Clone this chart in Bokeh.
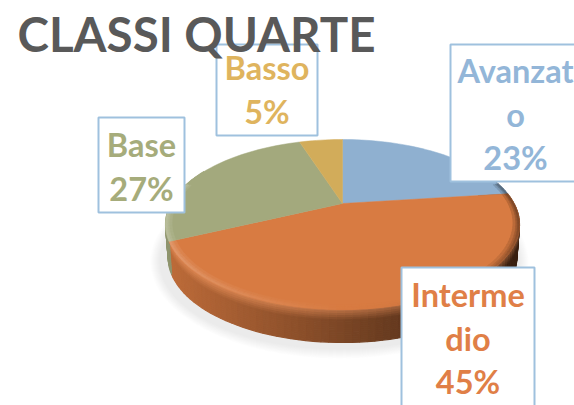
import math
from bokeh.plotting import figure
from bokeh.models import Range1d, ColumnDataSource
from bokeh.core.properties import value
from bokeh.embed import file_html
from bokeh.resources import INLINE

# --- data ---
title_text = "CLASSI QUARTE"
categories = ["Avanzato", "Intermedio", "Base", "Basso"]
values = [23, 45, 27, 5]
label_lines = [["Avanzat", "o"], ["Interme", "dio"], ["Base"], ["Basso"]]
face_colors = ["#8FB0D0", "#D87B42", "#A3A97D", "#D2AC5A"]
text_colors = ["#93B6D8", "#E07F47", "#A6AC7B", "#DFB45E"]

# --- layout (image pixels) ---
W, H = 574, 405
CX, CY, RX, RY, DEPTH, PERSP = 342, 224, 177, 85, 33, 0.247
boxes = [(450, 44, 590, 181), (401, 267, 534, 420), (98, 117, 184, 212), (216, 44, 317, 135)]
first_line = [70, 294, 144, 67]
FS = 32.5
LINE_H = 43.5


def hex2rgb(c):
    return tuple(int(c[i:i + 2], 16) for i in (1, 3, 5))


def mix(a, b, f):
    return tuple(a[i] + (b[i] - a[i]) * f for i in range(3))


def rgb2hex(c):
    return "#%02x%02x%02x" % tuple(max(0, min(255, round(v))) for v in c)


def project(theta, r=1.0):
    """Angle clockwise from 12 o'clock on the disc to unit ellipse coords."""
    s, d = r * math.sin(theta), r * math.cos(theta)
    den = 1 + PERSP * d
    k = math.sqrt(1 - PERSP ** 2)
    return k * s / den, -(d + PERSP) / den


def arc(a0, a1, step=math.radians(2)):
    n = max(2, int(abs(a1 - a0) / step) + 1)
    return [a0 + (a1 - a0) * i / n for i in range(n + 1)]


p = figure(width=W, height=H, x_range=Range1d(0, W), y_range=Range1d(H, 0),
           output_backend="svg", toolbar_location=None, min_border=0)
p.axis.visible = False
p.grid.visible = False
p.outline_line_color = None
p.background_fill_color = "#ffffff"
p.border_fill_color = "#ffffff"

# soft shadow
for i in range(10):
    g = 12 - i
    p.ellipse(x=CX - 3, y=CY + DEPTH + 4, width=2 * (RX + g), height=2 * (RY + g),
              fill_color="#808080", fill_alpha=0.02, line_color=None)

total = sum(values)
angles = [0.0]
for v in values:
    angles.append(angles[-1] + 2 * math.pi * v / total)

# side wall
xs, ys, cols = [], [], []
layers = 16
for i, base_hex in enumerate(face_colors):
    base = hex2rgb(base_hex)
    th = arc(angles[i], angles[i + 1])
    for a0, a1 in zip(th[:-1], th[1:]):
        if math.cos((a0 + a1) / 2) > 0.45:
            continue
        u0, v0 = project(a0)
        u1, v1 = project(a1)
        um = (u0 + u1) / 2
        pos = (um + 1) / 2
        for l in range(layers):
            t0, t1 = l / layers, (l + 1) / layers
            body = mix(base, (0, 0, 0), 0.12 + 0.62 * pos)
            rim = mix(mix(base, (255, 255, 255), 0.08), (0, 0, 0), 0.45 * pos ** 1.5)
            f = max(0.0, min(1.0, 1 - t0 / 0.3))
            col = mix(body, rim, f)
            shrink0, shrink1 = 1 - 0.015 * t0, 1 - 0.015 * t1
            xs.append([CX + RX * u0 * shrink0, CX + RX * u1 * shrink0,
                       CX + RX * u1 * shrink1, CX + RX * u0 * shrink1])
            ys.append([CY + RY * v0 + DEPTH * t0, CY + RY * v1 + DEPTH * t0,
                       CY + RY * v1 + DEPTH * t1, CY + RY * v0 + DEPTH * t1])
            cols.append(rgb2hex(col))
p.patches(xs="xs", ys="ys", fill_color="cols", line_color="cols", line_width=1.2,
          source=ColumnDataSource(dict(xs=xs, ys=ys, cols=cols)))

# top face
for i, base_hex in enumerate(face_colors):
    th = arc(angles[i], angles[i + 1])
    pts = [project(a) for a in th]
    ox, oy = project(0, 0)
    fx = [CX + RX * ox] + [CX + RX * q[0] for q in pts]
    fy = [CY + RY * oy] + [CY + RY * q[1] for q in pts]
    p.patch(fx, fy, fill_color=base_hex, line_color=base_hex, line_width=0.5)

# bevel on the disc's edge
xs, ys, cols = [], [], []
rings = [(0.965, 0.98, 0.35), (0.98, 0.99, 0.7), (0.99, 1.0, 1.0)]
for i, base_hex in enumerate(face_colors):
    base = hex2rgb(base_hex)
    th = arc(angles[i], angles[i + 1])
    for a0, a1 in zip(th[:-1], th[1:]):
        am = (a0 + a1) / 2
        s, d = math.sin(am), math.cos(am)
        if d > 0.25:
            continue
        for r0, r1, w in rings:
            if s < 0:
                col = mix(base, (255, 255, 255), 0.24 * w * min(1, -s))
            else:
                col = mix(base, (0, 0, 0), 0.42 * w * s ** 2)
            q = [project(a0, r0), project(a1, r0), project(a1, r1), project(a0, r1)]
            xs.append([CX + RX * c[0] for c in q])
            ys.append([CY + RY * c[1] for c in q])
            cols.append(rgb2hex(col))
p.patches(xs="xs", ys="ys", fill_color="cols", line_color="cols", line_width=0.6,
          source=ColumnDataSource(dict(xs=xs, ys=ys, cols=cols)))

# data labels
for (x0, y0, x1, y1), lines, v, tc, y_first in zip(boxes, label_lines, values, text_colors, first_line):
    p.quad(left=x0, right=x1, top=y0, bottom=y1, fill_color="#ffffff",
           line_color="#9FC1DE", line_width=2)
    rows = lines + [f"{v}%"]
    xc = (x0 + x1) / 2
    if x1 > W:
        xc = (x0 + W) / 2 + 3
    for n, row in enumerate(rows):
        p.text(x=[xc], y=[y_first + n * LINE_H], text=[row], text_color=tc,
               text_font=value("Lato"), text_font_style="bold",
               text_font_size=f"{FS}px", text_align="center", text_baseline="middle")

p.text(x=[17], y=[33], text=[title_text], text_color="#595959", text_font=value("Lato"),
       text_font_style="bold", text_font_size="47.5px", text_align="left", text_baseline="middle")

open("out.html", "w").write(file_html(p, INLINE))
